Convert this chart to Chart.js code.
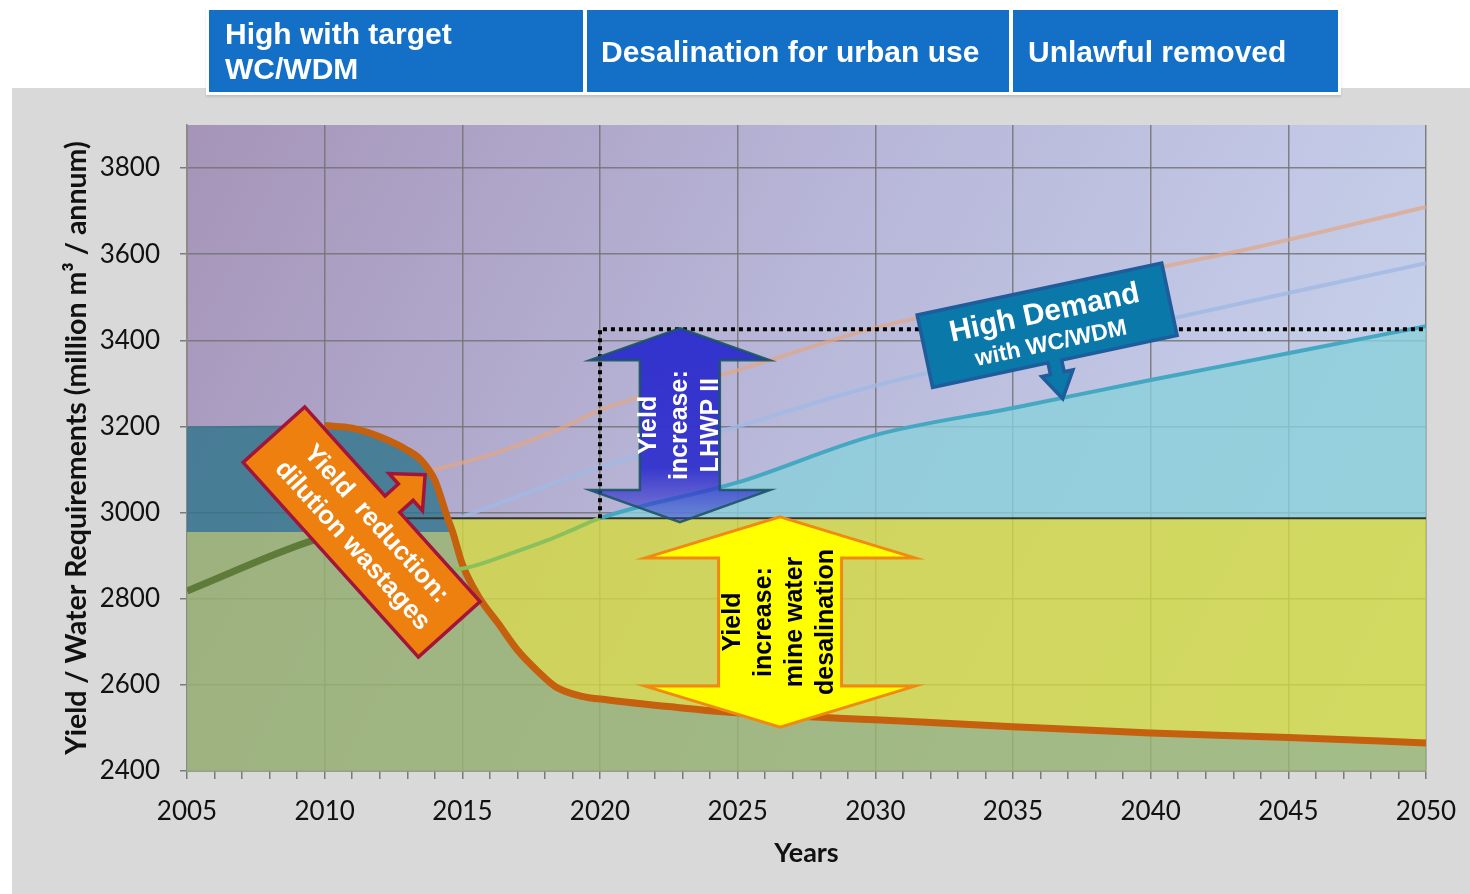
<!DOCTYPE html>
<html>
<head>
<meta charset="utf-8">
<script src="https://cdn.jsdelivr.net/npm/chart.js@4.4.1/dist/chart.umd.min.js"></script>
<style>
  html, body { margin: 0; padding: 0; background: #fff; }
  body { width: 1470px; height: 894px; position: relative; overflow: hidden; font-family: "Liberation Sans", Arial, sans-serif; }
  .panel { position: absolute; left: 12px; top: 88px; width: 1458px; height: 806px; background: #d9d9d9; }
  #chart { position: absolute; left: 0; top: 0; }
  .header { position: absolute; left: 206px; top: 7px; width: 1135px; height: 88px; background: #fff; display: flex; gap: 4px; padding: 3px; box-sizing: border-box; box-shadow: 0 2px 2px rgba(0,0,0,0.12); z-index: 2; }
  .cell { background: #1470c6; color: #fff; font-weight: bold; font-size: 30px; line-height: 35px; display: flex; align-items: center; box-sizing: border-box; }
</style>
</head>
<body>
<div class="panel"></div>
<canvas id="chart" width="1470" height="894"></canvas>
<div class="header">
  <div class="cell" style="width:374px;padding-left:16px">High with target<br>WC/WDM</div>
  <div class="cell" style="width:422px;padding-left:14px">Desalination for urban use</div>
  <div class="cell" style="width:325px;padding-left:15px">Unlawful removed</div>
</div>
<script>
// axis ticks
const xTicks = [2005, 2010, 2015, 2020, 2025, 2030, 2035, 2040, 2045, 2050];
const yTicks = [2400, 2600, 2800, 3000, 3200, 3400, 3600, 3800];

// yield levels (million m3 / annum)
const initialYield = 3200;
const existingYield = 2955;
const augmentedYield = 2987;
const targetYield = 3426;

// yield after dilution reduction
const yieldYears = [2010, 2011, 2012, 2013, 2013.5, 2014, 2014.45, 2014.65, 2015, 2015.6, 2016.3, 2017, 2017.7, 2018.4, 2019.3, 2020.3, 2022.6, 2025, 2030, 2035, 2040, 2045, 2050];
const yieldValues = [3202, 3196, 3176, 3145, 3122, 3075, 2990, 2955, 2880, 2804, 2743, 2681, 2634, 2595, 2574, 2565, 2549, 2535, 2519, 2503, 2488, 2478, 2465];

// high demand with WC/WDM
const demandYears = [2005, 2009.6, 2010.5, 2012, 2013.5, 2014.55, 2015.3, 2016.8, 2018.1, 2019, 2020, 2025, 2030, 2035, 2040, 2045, 2050];
const demandValues = [2818, 2936, 2950, 2925, 2885, 2867, 2874, 2906, 2936, 2960, 2987, 3070, 3180, 3243, 3308, 3370, 3433];

// other demand scenarios (faint lines)
const highYears = [2013.5, 2016, 2018.7, 2020, 2025, 2030, 2035, 2040, 2043.4, 2050];
const highValues = [3092, 3134, 3199, 3238, 3331, 3429, 3497, 3565, 3610, 3710];
const midYears = [2014.4, 2015, 2020, 2025, 2030, 2035, 2040, 2045, 2050];
const midValues = [2975, 2990, 3105, 3200, 3295, 3368, 3440, 3510, 3579];

const pts = (xs, ys) => xs.map((x, i) => ({ x: x, y: ys[i] }));
const yieldPts = pts(yieldYears, yieldValues);
const demandPts = pts(demandYears, demandValues);

const greenPts = [{ x: 2005, y: existingYield }].concat(yieldPts.filter(p => p.x >= 2014.65));
const tealPts = [{ x: 2005, y: initialYield }].concat(yieldPts.filter(p => p.x <= 2014.65));
const yellowPts = yieldPts.filter(p => p.x >= 2014.45);
const cyanPts = demandPts.filter(p => p.x >= 2020);

function doubleArrow(ctx, cx, top, bot, shaftW, headW, headH) {
  ctx.beginPath();
  ctx.moveTo(cx, top);
  ctx.lineTo(cx + headW / 2, top + headH);
  ctx.lineTo(cx + shaftW / 2, top + headH);
  ctx.lineTo(cx + shaftW / 2, bot - headH);
  ctx.lineTo(cx + headW / 2, bot - headH);
  ctx.lineTo(cx, bot);
  ctx.lineTo(cx - headW / 2, bot - headH);
  ctx.lineTo(cx - shaftW / 2, bot - headH);
  ctx.lineTo(cx - shaftW / 2, top + headH);
  ctx.lineTo(cx - headW / 2, top + headH);
  ctx.closePath();
}

// box with an arrow coming out of one long side (s = -1 top, +1 bottom)
function callout(ctx, w, h, sw, hw, len, headLen, s) {
  const e = s * h / 2, tip = s * (h / 2 + len), base = s * (h / 2 + len - headLen);
  ctx.beginPath();
  ctx.moveTo(-w / 2, -e);
  ctx.lineTo(w / 2, -e);
  ctx.lineTo(w / 2, e);
  ctx.lineTo(sw / 2, e);
  ctx.lineTo(sw / 2, base);
  ctx.lineTo(hw / 2, base);
  ctx.lineTo(0, tip);
  ctx.lineTo(-hw / 2, base);
  ctx.lineTo(-sw / 2, base);
  ctx.lineTo(-sw / 2, e);
  ctx.lineTo(-w / 2, e);
  ctx.closePath();
}

function textBlock(ctx, lines, cx, cy, angle, gap, font, color, dx) {
  ctx.save();
  ctx.translate(cx, cy);
  ctx.rotate(angle);
  ctx.font = font;
  ctx.fillStyle = color;
  ctx.textAlign = 'center';
  ctx.textBaseline = 'middle';
  lines.forEach((t, i) => ctx.fillText(t, dx || 0, (i - (lines.length - 1) / 2) * gap));
  ctx.restore();
}

const plotBg = {
  id: 'plotBg',
  beforeDraw(chart) {
    const { ctx, chartArea: a } = chart;
    const g = ctx.createLinearGradient(a.left, a.top, a.right, a.bottom);
    g.addColorStop(0, '#a594b8');
    g.addColorStop(0.45, '#b8b7d9');
    g.addColorStop(1, '#cbd8f0');
    ctx.save();
    ctx.fillStyle = g;
    ctx.fillRect(a.left, a.top, a.right - a.left, a.bottom - a.top);
    ctx.restore();
  }
};

const annotate = {
  id: 'annotate',
  afterDatasetsDraw(chart) {
    const { ctx } = chart;
    const px = v => chart.scales.x.getPixelForValue(v);
    const py = v => chart.scales.y.getPixelForValue(v);
    ctx.save();
    ctx.lineJoin = 'miter';

    // LHWP II arrow
    const bx = px(2022.9), bTop = py(3428), bBot = py(2978);
    const bg = ctx.createLinearGradient(0, bTop, 0, bBot);
    bg.addColorStop(0, 'rgba(50,50,205,1)');
    bg.addColorStop(0.72, 'rgba(50,50,205,0.95)');
    bg.addColorStop(1, 'rgba(50,50,205,0.4)');
    doubleArrow(ctx, bx, bTop, bBot, 80, 180, 32);
    ctx.fillStyle = bg;
    ctx.fill();
    ctx.lineWidth = 2.5;
    ctx.strokeStyle = 'rgba(28,84,100,0.9)';
    ctx.stroke();
    textBlock(ctx, ['Yield', 'increase:', 'LHWP II'], bx, py(3203), -Math.PI / 2, 31, 'bold 25px "Liberation Sans"', '#fff');

    // mine water desalination arrow
    const yx = px(2026.54), yTop = py(2990), yBot = py(2502);
    doubleArrow(ctx, yx, yTop, yBot, 123, 270, 41);
    ctx.fillStyle = '#ffff00';
    ctx.fill();
    ctx.lineWidth = 3;
    ctx.strokeStyle = '#f08a10';
    ctx.stroke();
    textBlock(ctx, ['Yield', 'increase:', 'mine water', 'desalination'], yx, (yTop + yBot) / 2, -Math.PI / 2, 31, 'bold 25px "Liberation Sans"', '#000');

    // dilution wastages box
    ctx.save();
    ctx.translate(px(2011.34), py(existingYield));
    ctx.rotate(48 * Math.PI / 180);
    callout(ctx, 262, 83, 22, 50, 44, 26, -1);
    ctx.fillStyle = '#ee8010';
    ctx.fill();
    ctx.lineWidth = 3.5;
    ctx.strokeStyle = '#a3143a';
    ctx.stroke();
    ctx.restore();
    textBlock(ctx, ['Yield  reduction:', 'dilution wastages'], px(2011.34), py(existingYield), 48 * Math.PI / 180, 32, 'bold 26px "Liberation Sans"', '#fff', 4);

    // High Demand callout
    const hx = px(2036.24), hy = py(3435);
    const rot = -12 * Math.PI / 180;
    ctx.save();
    ctx.translate(hx, hy);
    ctx.rotate(rot);
    callout(ctx, 250, 74, 14, 32, 38, 26, 1);
    ctx.fillStyle = '#0a78a8';
    ctx.fill();
    ctx.lineWidth = 3.5;
    ctx.strokeStyle = '#1e5c9c';
    ctx.stroke();
    ctx.fillStyle = '#fff';
    ctx.textAlign = 'center';
    ctx.textBaseline = 'middle';
    ctx.font = 'bold 30px "Liberation Sans"';
    ctx.fillText('High Demand', 0, -12);
    ctx.font = 'bold 23px "Liberation Sans"';
    ctx.fillText('with WC/WDM', 0, 19);
    ctx.restore();

    ctx.restore();
  }
};

const allYears = Array.from({ length: 46 }, (_, i) => 2005 + i);

new Chart(document.getElementById('chart'), {
  type: 'line',
  data: {
    datasets: [
      { data: [{ x: 2020, y: augmentedYield }, { x: 2020, y: targetYield }, { x: 2050, y: targetYield }],
        borderColor: '#000', borderWidth: 4, borderDash: [4, 4], tension: 0, fill: false },
      { data: demandPts, cubicInterpolationMode: 'monotone', fill: false, borderWidth: 4,
        segment: {
          borderColor: c => c.p0.parsed.x < 2010 ? '#5f7b3a' : (c.p0.parsed.x < 2020 ? '#8cc05c' : '#45a8c2'),
          borderWidth: c => c.p0.parsed.x < 2010 ? 7 : 4
        } },
      { data: yieldPts, cubicInterpolationMode: 'monotone', fill: false, borderColor: '#c5600f', borderWidth: 7 },
      { data: [{ x: 2012.5, y: augmentedYield }, { x: 2050, y: augmentedYield }], borderColor: '#333', borderWidth: 2, fill: false },
      { data: cyanPts, cubicInterpolationMode: 'monotone', borderWidth: 0, fill: { value: augmentedYield }, backgroundColor: 'rgba(137,207,218,0.8)' },
      { data: yellowPts, cubicInterpolationMode: 'monotone', borderWidth: 0, fill: { value: augmentedYield }, backgroundColor: 'rgba(212,219,62,0.8)' },
      { data: tealPts, cubicInterpolationMode: 'monotone', borderWidth: 0, fill: { value: existingYield }, backgroundColor: 'rgba(47,116,139,0.8)' },
      { data: greenPts, cubicInterpolationMode: 'monotone', borderWidth: 0, fill: 'start', backgroundColor: 'rgba(154,183,110,0.8)' },
      { data: pts(midYears, midValues), cubicInterpolationMode: 'monotone', fill: false, borderColor: 'rgba(160,185,228,0.8)', borderWidth: 4 },
      { data: pts(highYears, highValues), cubicInterpolationMode: 'monotone', fill: false, borderColor: 'rgba(228,165,130,0.7)', borderWidth: 4 }
    ]
  },
  options: {
    responsive: false,
    animation: false,
    devicePixelRatio: 1,
    layout: { padding: { left: 0, right: 44, top: 125, bottom: 23 } },
    elements: { point: { radius: 0 } },
    plugins: { legend: { display: false }, tooltip: { enabled: false } },
    scales: {
      x: {
        type: 'linear', min: 2005, max: 2050,
        afterBuildTicks: axis => { axis.ticks = allYears.map(v => ({ value: v })); },
        afterFit: s => { s.height = 100; s.paddingLeft = 0; s.paddingRight = 0; },
        grid: {
          color: c => (c.tick && xTicks.includes(c.tick.value)) ? 'rgba(115,115,115,0.85)' : 'rgba(0,0,0,0)',
          lineWidth: 1.5, tickColor: '#7a7a7a', tickLength: 8
        },
        border: { color: '#8a8a8a', width: 1.5 },
        ticks: {
          autoSkip: false, maxRotation: 0, padding: 17, color: '#111',
          font: { family: 'Lato', size: 26 },
          callback: v => xTicks.includes(v) ? String(v) : ''
        },
        title: { display: true, text: 'Years', color: '#111', font: { family: 'Lato', size: 27, weight: 'bold' }, padding: { top: 0, bottom: 2 } }
      },
      y: {
        min: 2400, max: 3900,
        afterBuildTicks: axis => { axis.ticks = yTicks.map(v => ({ value: v })); },
        afterFit: s => { s.width = 187; },
        grid: { color: 'rgba(115,115,115,0.85)', lineWidth: 1.5, tickColor: '#7a7a7a', tickLength: 7 },
        border: { color: '#8a8a8a', width: 1.5 },
        ticks: { padding: 20, color: '#111', font: { family: 'Lato', size: 26 }, callback: v => String(v) },
        title: { display: true, text: 'Yield / Water Requirements (million m³ / annum)', color: '#111', font: { family: 'Lato', size: 28.5, weight: 'bold' }, padding: { top: 60, bottom: 0 } }
      }
    }
  },
  plugins: [plotBg, annotate]
});
</script>
</body>
</html>
